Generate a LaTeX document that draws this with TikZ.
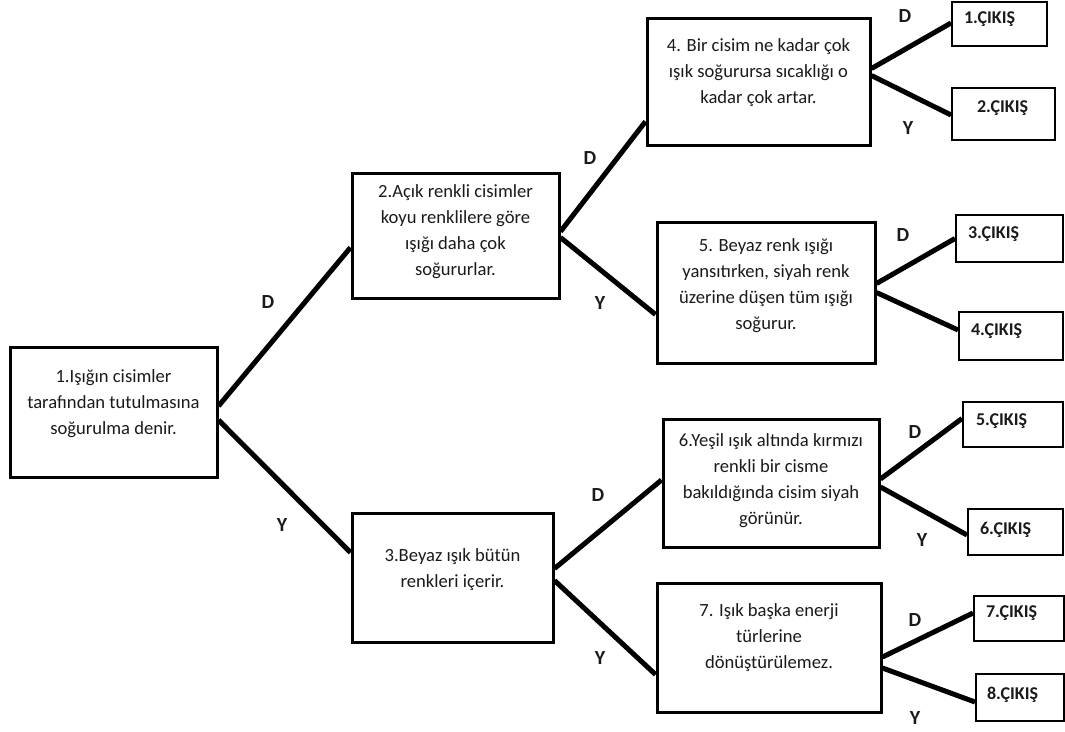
\documentclass[tikz,border=0pt]{standalone}
\usepackage{fontspec}
\setmainfont{Carlito}
\usepackage{xcolor}
\usepackage{tikz}
\usetikzlibrary{positioning, calc}
\definecolor{treeline}{HTML}{000000}
\definecolor{treetext}{HTML}{1A1A1A}

% box contents: height, width, top gap, lines
\newcommand{\qbody}[4]{\parbox[c][#1pt][t]{#2pt}{\fontsize{18.6}{26}\selectfont\centering\vspace*{#3pt}#4\par}}
\newcommand{\obody}[5]{\parbox[c][#1pt][t]{#2pt}{\fontsize{18}{20}\selectfont\bfseries\vspace*{#3pt}\hspace*{#4pt}#5\par}}

\begin{document}
\begin{tikzpicture}[x=1pt, y=-1pt,
    qbox/.style={draw=treeline, line width=3pt, inner sep=0pt, text=treetext},
    outbox/.style={draw=treeline, line width=2pt, inner sep=0pt, text=treetext},
    link/.style={treeline, line width=5pt},
    lbl/.style={font=\fontsize{20}{22}\selectfont\bfseries, text=treetext, inner sep=0pt}]
    \useasboundingbox (0,0) rectangle (1065,731);

    % Questions
    \node[qbox] (q1) at (113.5,412) {\qbody{130}{207}{23}{1.Işığın cisimler\\ tarafından tutulmasına\\ soğurulma denir.}};
    \node[qbox] (q2) at (455.5,235.5) {\qbody{125}{207}{12}{2.Açık renkli cisimler\\ koyu renklilere göre\\ ışığı daha çok\\ soğururlar.}};
    \node[qbox] (q3) at (452.5,577.5) {\qbody{129}{201}{36}{3.Beyaz ışık bütün\\ renkleri içerir.}};
    \node[qbox] (q4) at (758.5,81.5) {\qbody{127}{223}{21}{4. Bir cisim ne kadar çok\\ ışık soğurursa sıcaklığı o\\ kadar çok artar.}};
    \node[qbox] (q5) at (766,292.5) {\qbody{141}{218}{17}{5. Beyaz renk ışığı\\ yansıtırken, siyah renk\\ üzerine düşen tüm ışığı\\ soğurur.}};
    \node[qbox] (q6) at (771,483) {\qbody{128}{216}{15}{6.Yeşil ışık altında kırmızı\\ renkli bir cisme\\ bakıldığında cisim siyah\\ görünür.}};
    \node[qbox] (q7) at (769,647.5) {\qbody{129}{224}{21}{7. Işık başka enerji\\ türlerine\\ dönüştürülemez.}};

    % Exits
    \node[outbox] (o1) at (999.5,24) {\obody{44}{95}{10}{12}{1.ÇIKIŞ}};
    \node[outbox] (o2) at (1003.5,114) {\obody{52}{103}{13}{25}{2.ÇIKIŞ}};
    \node[outbox] (o3) at (1009.5,238.5) {\obody{47}{107}{12}{12}{3.ÇIKIŞ}};
    \node[outbox] (o4) at (1011,336) {\obody{48}{104}{12}{12}{4.ÇIKIŞ}};
    \node[outbox] (o5) at (1013,424.5) {\obody{45}{100}{12}{13}{5.ÇIKIŞ}};
    \node[outbox] (o6) at (1015.5,532) {\obody{46}{95}{13}{12}{6.ÇIKIŞ}};
    \node[outbox] (o7) at (1019,618.5) {\obody{45}{90}{10}{12}{7.ÇIKIŞ}};
    \node[outbox] (o8) at (1020,697.5) {\obody{47}{88}{13}{11}{8.ÇIKIŞ}};

    % Branches
    \draw[link] ($(q1.east)+(0,-6)$) -- ($(q2.west)+(0,12)$);
    \draw[link] ($(q1.east)+(0,8)$) -- ($(q3.west)+(0,-25)$);
    \draw[link] ($(q2.east)+(0,-4)$) -- ($(q4.west)+(0,40)$);
    \draw[link] ($(q2.east)+(0,2)$) -- ($(q5.west)+(0,22)$);
    \draw[link] ($(q3.east)+(0,-9)$) -- ($(q6.west)+(0,-3)$);
    \draw[link] ($(q3.east)+(0,3)$) -- ($(q7.west)+(0,27)$);
    \draw[link] ($(q4.east)+(0,-13)$) -- ($(o1.west)+(0,-1)$);
    \draw[link] ($(q4.east)+(0,-6)$) -- ($(o2.west)+(0,1)$);
    \draw[link] ($(q5.east)+(0,-9)$) -- (o3.west);
    \draw[link] ($(q5.east)+(0,0)$) -- ($(o4.west)+(0,-6)$);
    \draw[link] ($(q6.east)+(0,-4)$) -- ($(o5.west)+(0,-6)$);
    \draw[link] ($(q6.east)+(0,4)$) -- ($(o6.west)+(0,3)$);
    \draw[link] ($(q7.east)+(0,9.5)$) -- ($(o7.west)+(0,-5.5)$);
    \draw[link] ($(q7.east)+(0,20.5)$) -- ($(o8.west)+(0,4.5)$);

    % D / Y labels
    \node[lbl] (d1) at (268,302) {D};
    \node[lbl] (y1) at (282,525) {Y};
    \node[lbl] (d2) at (590,158) {D};
    \node[lbl] (y2) at (600,303) {Y};
    \node[lbl] (d3) at (598,495) {D};
    \node[lbl] (y3) at (600,658) {Y};
    \node[lbl] (d4) at (905,16) {D};
    \node[lbl] (y4) at (908,128) {Y};
    \node[lbl] (d5) at (903,235) {D};
    \node[lbl] (d6) at (915,432) {D};
    \node[lbl] (y6) at (922,540) {Y};
    \node[lbl] (d7) at (915,620) {D};
    \node[lbl] (y7) at (915,718) {Y};
\end{tikzpicture}
\end{document}
